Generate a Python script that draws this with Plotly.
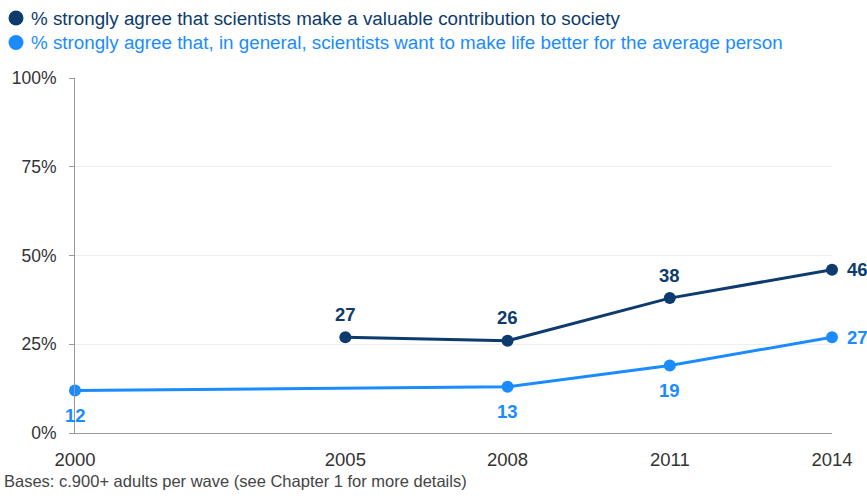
import plotly.graph_objects as go

# Data
years_contrib = [2005, 2008, 2011, 2014]
vals_contrib = [27, 26, 38, 46]
years_better = [2000, 2008, 2011, 2014]
vals_better = [12, 13, 19, 27]
series_names = [
    "% strongly agree that scientists make a valuable contribution to society",
    "% strongly agree that, in general, scientists want to make life better for the average person",
]
x_ticks = [2000, 2005, 2008, 2011, 2014]
y_ticks = [0, 25, 50, 75, 100]
y_tick_labels = ["0%", "25%", "50%", "75%", "100%"]
footer = "Bases: c.900+ adults per wave (see Chapter 1 for more details)"

DARK = "#0d3b6e"
LIGHT = "#1a8cff"
FONT = "Liberation Sans, Arial, sans-serif"

W, H = 867, 499
ML, MR, MT, MB = 75, 35, 78, 66
pw, ph = W - ML - MR, H - MT - MB

def px_to_paper_x(px):
    return (px - ML) / pw

def px_to_paper_y(py):
    return (H - MB - py) / ph

fig = go.Figure()

for xs, ys, col in [(years_contrib, vals_contrib, DARK), (years_better, vals_better, LIGHT)]:
    fig.add_trace(go.Scatter(
        x=xs, y=ys, mode="lines+markers",
        line=dict(color=col, width=3), marker=dict(color=col, size=12),
        cliponaxis=False, showlegend=False, hoverinfo="skip",
    ))

annotations = []
# data labels
for xs, ys, col, above in [(years_contrib, vals_contrib, DARK, True), (years_better, vals_better, LIGHT, False)]:
    for i, (x, y) in enumerate(zip(xs, ys)):
        last = i == len(xs) - 1
        a = dict(x=x, y=y, xref="x", yref="y", text=str(y), showarrow=False,
                 font=dict(family=FONT, size=18.5, color=col, weight="bold"))
        if last:
            a.update(xanchor="left", yanchor="middle", xshift=13, yshift=0)
        else:
            a.update(xanchor="center", yanchor="middle", yshift=23 if above else -25)
        annotations.append(a)

# Legend (custom)
shapes = []
for i, (name, col) in enumerate(zip(series_names, [DARK, LIGHT])):
    cy = 18 + 24.5 * i
    shapes.append(dict(
        type="circle", xref="paper", yref="paper",
        xsizemode="pixel", ysizemode="pixel",
        xanchor=px_to_paper_x(16), yanchor=px_to_paper_y(cy),
        x0=-7.5, x1=7.5, y0=-7.5, y1=7.5,
        fillcolor=col, line=dict(width=0),
    ))
    annotations.append(dict(
        text=name, xref="paper", yref="paper",
        x=px_to_paper_x(29), y=px_to_paper_y(cy),
        xanchor="left", yanchor="middle", showarrow=False,
        font=dict(family=FONT, size=18.8, color=col),
    ))

annotations.append(dict(
    text=footer, xref="paper", yref="paper",
    x=px_to_paper_x(2), y=px_to_paper_y(481),
    xanchor="left", yanchor="middle", showarrow=False,
    font=dict(family=FONT, size=16.5, color="#444444"),
))

fig.update_layout(
    width=W, height=H,
    margin=dict(l=ML, r=MR, t=MT, b=MB, pad=0),
    paper_bgcolor="white", plot_bgcolor="white",
    font=dict(family=FONT, color="#333333"),
    shapes=shapes, annotations=annotations,
    showlegend=False,
)
fig.update_xaxes(
    range=[2000, 2014], tickvals=x_ticks, ticktext=[str(t) for t in x_ticks],
    showgrid=False, zeroline=False, showline=True, linecolor="#999999", linewidth=1,
    ticks="", tickfont=dict(family=FONT, size=18.5, color="#333333"),
    ticklabelstandoff=10,
)
fig.update_yaxes(
    range=[0, 100], tickvals=y_ticks, ticktext=y_tick_labels,
    showgrid=True, gridcolor="#eeeeee", gridwidth=1, zeroline=False,
    showline=True, linecolor="#999999", linewidth=1,
    ticks="outside", ticklen=5, tickcolor="#999999",
    tickfont=dict(family=FONT, size=17.5, color="#333333"),
    ticklabelstandoff=9,
)

fig.write_html("out.html", config={"displayModeBar": False},
               post_script="document.body.style.margin='0px';")
